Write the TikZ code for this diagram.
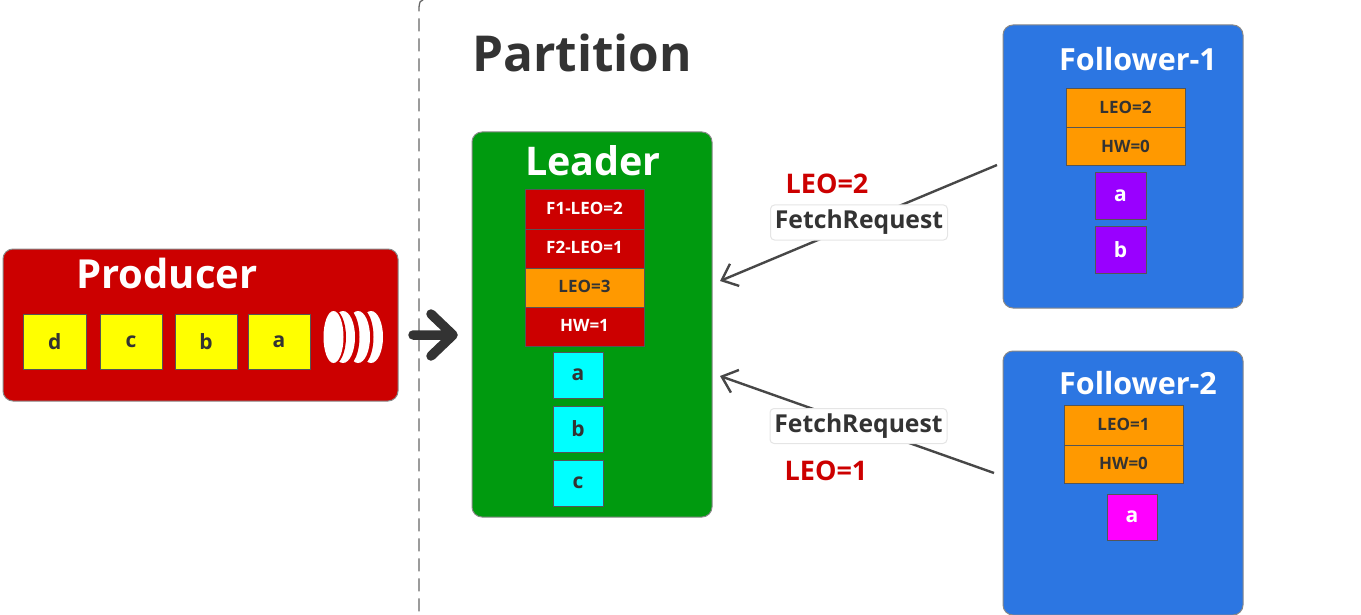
\documentclass[tikz,border=0pt]{standalone}
\usepackage{fontspec}
\setmainfont{Open Sans}
\usetikzlibrary{arrows.meta}
\definecolor{ink}{HTML}{333333}
\definecolor{edge}{HTML}{555555}
\definecolor{prodred}{HTML}{CC0000}
\definecolor{leadgreen}{HTML}{009A0F}
\definecolor{follblue}{HTML}{2C76E2}
\definecolor{amber}{HTML}{FF9900}
\definecolor{msgyellow}{HTML}{FFFF00}
\definecolor{msgcyan}{HTML}{00FFFF}
\definecolor{msgpurple}{HTML}{9900FF}
\definecolor{msgpink}{HTML}{FF00FF}
\definecolor{dashgray}{HTML}{666666}
\tikzset{
  x=1pt,y=-1pt,
  panel/.style={draw=edge!70,line width=1pt,rounded corners=10pt,anchor=north west,inner sep=0pt,outer sep=0pt},
  cell/.style={draw=edge,line width=1pt,anchor=north west,inner sep=0pt,outer sep=0pt,font=\fontsize{17}{17}\selectfont\bfseries,minimum width=119pt,text depth=1.5pt,text height=12pt},
  msg/.style={draw=edge,line width=1pt,anchor=north west,inner sep=0pt,outer sep=0pt,font=\fontsize{21}{21}\selectfont\bfseries},
  panelhead/.style={text=white,font=\fontsize{30.5}{30.5}\selectfont\bfseries,inner sep=0pt},
  tagbox/.style={fill=white,draw=black!10,line width=1pt,rounded corners=4pt,text=ink,font=\fontsize{24.7}{24.7}\selectfont\bfseries,inner sep=0pt,minimum width=177pt,minimum height=35pt},
  leotag/.style={text=prodred,font=\fontsize{27}{27}\selectfont\bfseries,inner sep=0pt},
  fetch/.style={draw=ink!90,line width=2.4pt,-{Straight Barb[length=14pt,width=24pt,line width=2.4pt]}},
}
\begin{document}
\begin{tikzpicture}
\useasboundingbox (0,0) rectangle (1361,615);
% divider
\coordinate (divtop) at (423,0);
\coordinate (divbend) at (419,7);
\coordinate (divbot) at (419,615);
\draw[dashgray,line width=1.3pt,dash pattern=on 13pt off 7pt] (divtop) .. controls (420,1) .. (divbend) -- (divbot);
% producer
\node[panel,fill=prodred,minimum width=395pt,minimum height=152pt] (producer) at (3,249) {};
\node[panelhead,font=\fontsize{40}{40}\selectfont\bfseries] (ptitle) at (167,273) {Producer};
\foreach \nm/\xx/\bw/\lb in {md/23.5/62.5/d,mc/100/62/c,mb/175/62/b,ma/248/62/a}
  \node[msg,fill=msgyellow,text=ink,minimum width=\bw pt,minimum height=55pt] (\nm) at (\xx,314) {\lb};
% batch icon
\fill[white] (371,337) ellipse (12pt and 26pt);
\fill[prodred] (361.5,337) ellipse (12pt and 28pt);
\fill[white] (358,337) ellipse (12pt and 26pt);
\fill[prodred] (347.5,337) ellipse (12pt and 28pt);
\fill[white] (343,337) ellipse (12pt and 26pt);
\fill[prodred] (333,337) ellipse (13pt and 28pt);
\fill[white] (333.5,337) ellipse (10pt and 26pt);
% send arrow
\coordinate (sendfrom) at (413,335);
\coordinate (sendto) at (453,335);
\coordinate (sendup) at (431,314);
\coordinate (senddown) at (431,356);
\draw[ink,line width=9.5pt,line cap=round,line join=round] (sendfrom) -- (sendto) (sendup) -- (sendto) -- (senddown);
% title
\node[text=ink,font=\fontsize{49.5}{49.5}\selectfont\bfseries,inner sep=0pt] (ptn) at (582,53) {Partition};
% leader
\node[panel,fill=leadgreen,minimum width=240pt,minimum height=385pt] (leader) at (472,132) {};
\node[panelhead,font=\fontsize{39.5}{39.5}\selectfont\bfseries] (ltitle) at (593,161) {Leader};
\node[cell,fill=prodred,text=white,minimum height=39pt] (l1) at (525,190) {F1-LEO=2};
\node[cell,fill=prodred,text=white,minimum height=39pt] (l2) at (525,229) {F2-LEO=1};
\node[cell,fill=amber,text=ink,minimum height=39pt] (l3) at (525,268) {LEO=3};
\node[cell,fill=prodred,text=white,minimum height=39pt] (l4) at (525,307) {HW=1};
\node[msg,fill=msgcyan,text=ink,minimum width=50pt,minimum height=46pt] (la) at (553,352) {a};
\node[msg,fill=msgcyan,text=ink,minimum width=50pt,minimum height=46pt] (lb) at (553,406) {b};
\node[msg,fill=msgcyan,text=ink,minimum width=50pt,minimum height=46pt] (lc) at (553,460) {c};
% follower 1
\node[panel,fill=follblue,minimum width=240pt,minimum height=283pt] (f1) at (1003,25) {};
\node[panelhead] (f1title) at (1138,59) {Follower-1};
\node[cell,fill=amber,text=ink,minimum height=39pt] (f1a) at (1066,89) {LEO=2};
\node[cell,fill=amber,text=ink,minimum height=38pt] (f1b) at (1066,128) {HW=0};
\node[msg,fill=msgpurple,text=white,minimum width=51pt,minimum height=46pt] (f1m) at (1095,173) {a};
\node[msg,fill=msgpurple,text=white,minimum width=51pt,minimum height=47pt] (f1n) at (1095,226) {b};
% follower 2
\node[panel,fill=follblue,minimum width=240pt,minimum height=264pt] (f2) at (1003,351) {};
\node[panelhead] (f2title) at (1138,383) {Follower-2};
\node[cell,fill=amber,text=ink,minimum height=40pt] (f2a) at (1064,405) {LEO=1};
\node[cell,fill=amber,text=ink,minimum height=38pt] (f2b) at (1064,445) {HW=0};
\node[msg,fill=msgpink,text=white,minimum width=50pt,minimum height=46pt] (f2m) at (1107,494) {a};
% fetch connectors
\coordinate (f1out) at (997,165);
\coordinate (f1in) at (720,281);
\coordinate (f2out) at (994,473);
\coordinate (f2in) at (720,376);
\draw[fetch] (f1out) -- (f1in);
\draw[fetch] (f2out) -- (f2in);
\node[leotag] (leo2) at (827,184) {LEO=2};
\node[tagbox] (fr1) at (859,222.5) {FetchRequest};
\node[tagbox] (fr2) at (858.5,426) {FetchRequest};
\node[leotag] (leo1) at (826,471) {LEO=1};
\end{tikzpicture}
\end{document}
